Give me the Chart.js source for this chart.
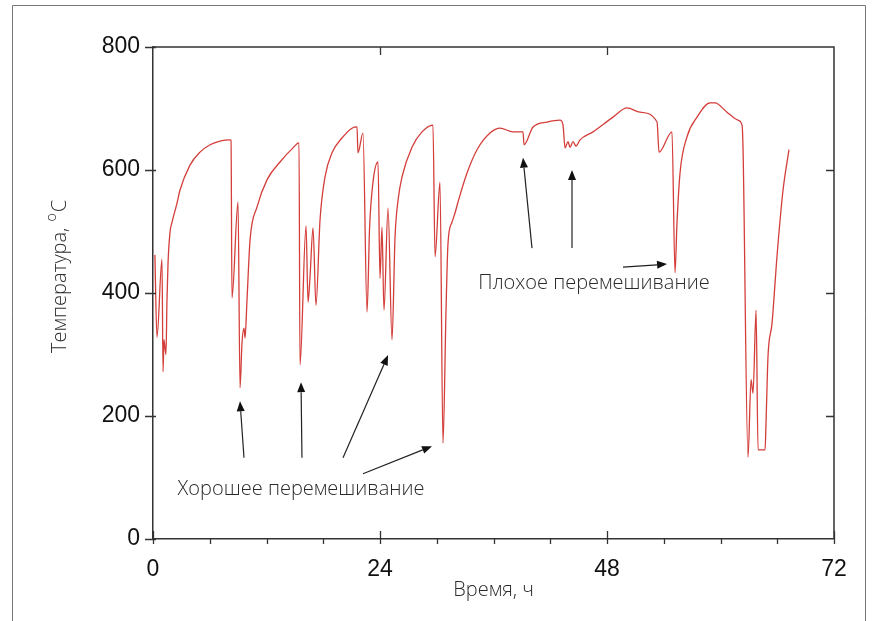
<!DOCTYPE html>
<html><head><meta charset="utf-8">
<script src="https://cdn.jsdelivr.net/npm/chart.js@4.4.1/dist/chart.umd.min.js"></script>
<style>html,body{margin:0;padding:0;background:#fff;}canvas{display:block}</style>
</head><body>
<canvas id="c" width="872" height="621"></canvas>
<script>
// ---- data ----
const timeHours = [0.2,0.42,0.95,1.06,1.16,1.37,1.48,1.59,1.8,2.01,2.54,2.85,3.91,4.97,6.03,7.08,8.14,8.25,8.35,8.99,9.2,9.41,9.62,9.73,9.94,10.26,11.0,12.05,13.43,14.8,15.44,15.54,16.18,16.39,16.6,16.92,17.23,17.66,18.19,18.93,19.98,21.04,21.57,21.67,22.2,22.63,22.9,23.25,23.79,24.0,24.21,24.42,24.85,25.27,25.59,25.9,26.33,27.38,28.44,29.6,29.82,30.34,30.66,30.98,31.19,31.61,31.93,32.25,33.2,34.26,35.63,36.69,38.06,39.12,39.23,40.18,41.66,43.03,43.35,43.56,43.88,44.09,44.41,44.72,45.15,46.52,48.64,50.12,51.49,53.29,53.5,54.87,55.19,55.4,55.72,56.46,57.52,58.89,59.42,60.69,61.85,62.28,62.38,62.91,63.23,63.44,63.76,63.97,64.71,64.82,65.02,65.45,65.97,66.61,67.24];
const temperatureC = [462,328,455,272,324,300,389,449,499,515,546,567,608,629,641,647,649,648,392,548,246,319,343,327,389,486,540,584,613,636,644,283,509,385,426,506,380,519,589,628,652,668,670,628,660,369,507,579,613,424,507,372,538,324,491,550,589,637,662,673,459,580,156,372,481,515,530,548,595,633,660,668,662,662,641,670,678,681,673,636,646,637,646,639,649,662,686,701,694,678,629,662,433,514,595,654,686,709,709,694,681,673,636,133,259,237,372,145,145,193,296,351,459,567,633];
const xTicks = [0,24,48,72];
const xMinorTicks = [6,12,18,30,36,42,54,60,66];
const yTicks = [0,200,400,600,800];
const xAxisTitle = 'Время, ч';
const yAxisTitle = 'Температура, ';
const yAxisSup = 'o';
const yAxisUnit = 'C';
const goodLabel = 'Хорошее перемешивание';
const badLabel = 'Плохое перемешивание';
const goodLabelAt = [2.6, 81];
const badLabelAt = [34.4, 415];
// arrows: [tailX, tailY, headX, headY] in data units
const goodArrows = [[9.62,132,9.20,224],[15.75,132,15.65,255],[20.09,132,24.85,299],[22.20,106,29.50,151]];
const badArrows = [[40.07,473,39.12,620],[44.30,473,44.30,600],[49.69,442,54.35,447]];

const TICK_FONT = {family:'Liberation Sans, Arial, sans-serif', size:23};
const TEXT_FONT = '300 20px "Open Sans", sans-serif';

function arrow(ctx, x1, y1, x2, y2){
  const ang = Math.atan2(y2-y1, x2-x1);
  const L = 10, W = 4;
  const bx = x2 - L*Math.cos(ang), by = y2 - L*Math.sin(ang);
  ctx.beginPath(); ctx.moveTo(x1,y1); ctx.lineTo(bx,by); ctx.stroke();
  ctx.beginPath();
  ctx.moveTo(x2,y2);
  ctx.lineTo(bx + W*Math.sin(ang), by - W*Math.cos(ang));
  ctx.lineTo(bx - W*Math.sin(ang), by + W*Math.cos(ang));
  ctx.closePath(); ctx.fill();
}

const framePlugin = {
  id:'frame',
  afterDraw(chart){
    const {ctx, chartArea:a, scales:{x, y}} = chart;
    ctx.save();
    // outer picture border
    ctx.strokeStyle = '#777'; ctx.lineWidth = 1;
    ctx.beginPath(); ctx.moveTo(12.5,625); ctx.lineTo(12.5,5.5); ctx.lineTo(865.5,5.5); ctx.lineTo(865.5,625); ctx.stroke();
    // top & right frame
    ctx.strokeStyle = '#333'; ctx.lineWidth = 1.5;
    ctx.beginPath(); ctx.moveTo(a.left, a.top); ctx.lineTo(a.right, a.top); ctx.lineTo(a.right, a.bottom); ctx.stroke();
    // ticks
    ctx.lineWidth = 1.3;
    ctx.beginPath();
    yTicks.forEach(v => {
      const py = Math.round(y.getPixelForValue(v)) + 0.5;
      ctx.moveTo(a.left-8, py); ctx.lineTo(a.left+3, py);
      if (v > 0 && v < 800) { ctx.moveTo(a.right, py); ctx.lineTo(a.right-8, py); }
    });
    xTicks.forEach(v => {
      const px = Math.round(x.getPixelForValue(v)) + 0.5;
      ctx.moveTo(px, a.bottom+5); ctx.lineTo(px, a.bottom-8);
      if (v > 0 && v < 72) { ctx.moveTo(px, a.top); ctx.lineTo(px, a.top+8); }
    });
    xMinorTicks.forEach(v => {
      const px = Math.round(x.getPixelForValue(v)) + 0.5;
      ctx.moveTo(px, a.bottom-1); ctx.lineTo(px, a.bottom+5);
    });
    ctx.stroke();
    // axis titles
    ctx.fillStyle = '#2a2a2a';
    ctx.font = TEXT_FONT;
    ctx.textAlign = 'center'; ctx.textBaseline = 'middle';
    ctx.fillText(xAxisTitle, (a.left + a.right)/2, 590);
    ctx.save();
    ctx.translate(60, 353); ctx.rotate(-Math.PI/2);
    ctx.textAlign = 'left';
    ctx.fillText(yAxisTitle, 0, 0);
    const w = ctx.measureText(yAxisTitle).width;
    ctx.font = '300 14px "Open Sans", sans-serif';
    ctx.fillText(yAxisSup, w + 1, -8);
    const wo = ctx.measureText(yAxisSup).width;
    ctx.font = TEXT_FONT;
    ctx.fillText(yAxisUnit, w + wo + 2, 0);
    ctx.restore();
    // annotations
    ctx.textAlign = 'left';
    ctx.fillText(goodLabel, x.getPixelForValue(goodLabelAt[0]), y.getPixelForValue(goodLabelAt[1]));
    ctx.fillText(badLabel, x.getPixelForValue(badLabelAt[0]), y.getPixelForValue(badLabelAt[1]));
    ctx.strokeStyle = '#222'; ctx.fillStyle = '#111'; ctx.lineWidth = 1.2;
    goodArrows.concat(badArrows).forEach(r => {
      arrow(ctx, x.getPixelForValue(r[0]), y.getPixelForValue(r[1]), x.getPixelForValue(r[2]), y.getPixelForValue(r[3]));
    });
    ctx.restore();
  }
};

new Chart(document.getElementById('c'), {
  type: 'line',
  data: {
    datasets: [{
      data: timeHours.map((t, i) => ({x: t, y: temperatureC[i]})),
      borderColor: 'rgb(212,62,58)',
      borderWidth: 1.3,
      pointRadius: 0,
      cubicInterpolationMode: 'monotone',
      fill: false
    }]
  },
  options: {
    responsive: false,
    animation: false,
    events: [],
    layout: {padding: {top: 47, right: 38, left: 0, bottom: 0}},
    plugins: {legend: {display: false}, tooltip: {enabled: false}},
    scales: {
      x: {
        type: 'linear', min: 0, max: 72,
        afterBuildTicks: s => { s.ticks = xTicks.map(v => ({value: v})); },
        afterFit: s => { s.height = 82; },
        ticks: {font: TICK_FONT, color: '#111', padding: 17, maxRotation: 0, autoSkip: false},
        grid: {display: false, drawTicks: false},
        border: {display: true, color: '#333', width: 1.5}
      },
      y: {
        type: 'linear', min: 0, max: 800,
        afterBuildTicks: s => { s.ticks = yTicks.map(v => ({value: v})); },
        afterFit: s => { s.width = 153; },
        ticks: {font: TICK_FONT, color: '#111', padding: 13},
        grid: {display: false, drawTicks: false},
        border: {display: true, color: '#333', width: 1.5}
      }
    }
  },
  plugins: [framePlugin]
});
</script>
</body></html>
